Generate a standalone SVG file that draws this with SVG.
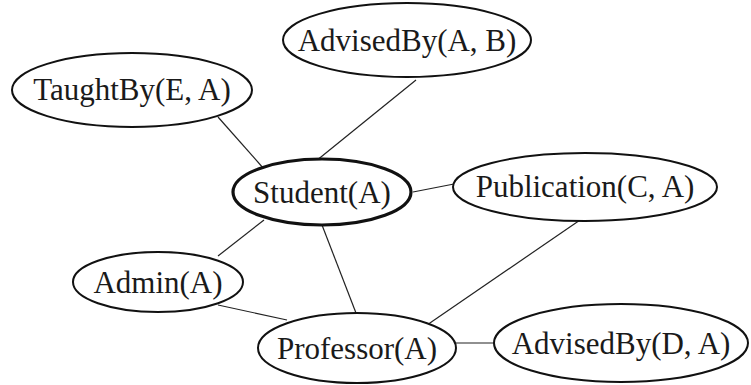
<svg xmlns="http://www.w3.org/2000/svg" width="751" height="385" viewBox="0 0 751 385">
  <style>
    .node ellipse { fill: #ffffff; stroke: #111111; stroke-width: 2; }
    .node.main ellipse { stroke-width: 3.2; }
    .node text { font-family: "Liberation Serif", "Times New Roman", serif; font-size: 31px; fill: #1a1a1a; text-anchor: middle; }
    #edges line { stroke: #222222; stroke-width: 1.2; }
  </style>
  <rect width="751" height="385" fill="#ffffff"/>

  <!-- undirected links between predicates -->
  <g id="edges">
    <line x1="218" y1="117" x2="264" y2="169"/>
    <line x1="416" y1="80" x2="316" y2="161"/>
    <line x1="413" y1="192" x2="454" y2="184"/>
    <line x1="264" y1="220" x2="218" y2="256"/>
    <line x1="322" y1="225" x2="356" y2="313"/>
    <line x1="218" y1="305" x2="287" y2="320"/>
    <line x1="583" y1="218" x2="427" y2="325"/>
    <line x1="456" y1="343" x2="494" y2="343"/>
  </g>

  <g id="taughtBy" class="node">
    <ellipse cx="132" cy="90" rx="120" ry="37"/>
    <text x="132" y="100">TaughtBy(E, A)</text>
  </g>

  <g id="advisedByAB" class="node">
    <ellipse cx="407" cy="40" rx="124" ry="37"/>
    <text x="407" y="51">AdvisedBy(A, B)</text>
  </g>

  <g id="student" class="node main">
    <ellipse cx="322" cy="192" rx="89" ry="33"/>
    <text x="322" y="203">Student(A)</text>
  </g>

  <g id="publication" class="node">
    <ellipse cx="585" cy="187" rx="132" ry="34"/>
    <text x="585" y="197">Publication(C, A)</text>
  </g>

  <g id="admin" class="node">
    <ellipse cx="158" cy="282" rx="85" ry="30"/>
    <text x="158" y="293">Admin(A)</text>
  </g>

  <g id="professor" class="node">
    <ellipse cx="357" cy="348" rx="99" ry="35"/>
    <text x="357" y="359">Professor(A)</text>
  </g>

  <g id="advisedByDA" class="node">
    <ellipse cx="621" cy="343" rx="127" ry="39"/>
    <text x="621" y="354">AdvisedBy(D, A)</text>
  </g>
</svg>
